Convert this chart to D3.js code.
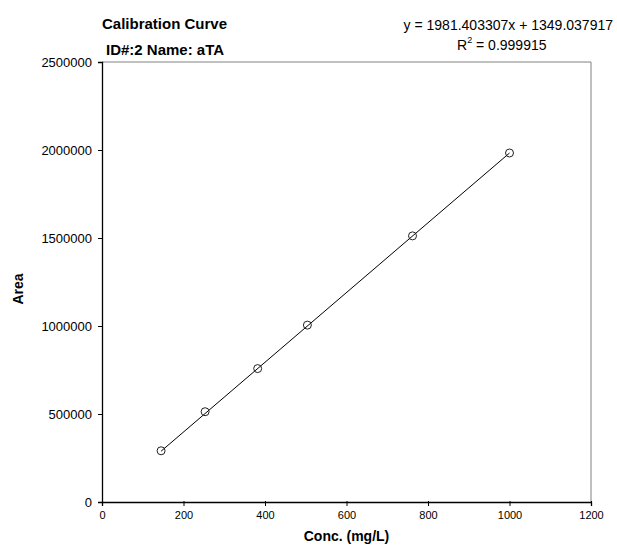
<!DOCTYPE html>
<html lang="en">
<head>
<meta charset="UTF-8">
<title>Calibration Curve</title>
<script src="https://d3js.org/d3.v7.min.js"></script>
<style>
    body { margin: 0; background: #fff; }
    * { font-family: Arial, "Liberation Sans", sans-serif; }
</style>
</head>
<body>
<div id="chart"></div>
<script>
// calibration standards
var conc = [145, 253, 382, 504, 762, 1000];
var area = [291000, 513000, 758000, 1005000, 1512000, 1983000];

// regression as printed on the chart
var slope = 1981.403307;
var intercept = 1349.037917;
var rSquared = "0.999915";

var xTicks = [0, 200, 400, 600, 800, 1000, 1200];
var yTicks = [0, 500000, 1000000, 1500000, 2000000, 2500000];

var width = 617, height = 547;
var margin = {top: 62, right: 26, bottom: 45, left: 102};

var svg = d3.select("#chart").append("svg")
    .attr("width", width)
    .attr("height", height);

var x = d3.scaleLinear().domain([0, 1200]).range([margin.left, width - margin.right]);
var y = d3.scaleLinear().domain([0, 2500000]).range([height - margin.bottom, margin.top]);

// grey frame on top and right
svg.append("path")
    .attr("d", "M" + x(0) + "," + y(2500000) + "H" + x(1200) + "V" + y(0))
    .attr("fill", "none")
    .attr("stroke", "#808080")
    .attr("stroke-width", 1);

// x axis
var xAxis = svg.append("g")
    .attr("transform", "translate(0," + y(0) + ")")
    .call(d3.axisBottom(x).tickValues(xTicks).tickSize(4).tickPadding(5).tickFormat(d3.format("d")));
xAxis.selectAll("text").style("font-size", "11px").attr("fill", "#000");
xAxis.selectAll(".tick line").attr("y1", -1);

// y axis
var yAxis = svg.append("g")
    .attr("transform", "translate(" + x(0) + ",0)")
    .call(d3.axisLeft(y).tickValues(yTicks).tickSize(4).tickPadding(6).tickFormat(d3.format("d")));
yAxis.selectAll("text").style("font-size", "13px").attr("fill", "#000");
yAxis.selectAll(".tick line").attr("x1", 1);

svg.selectAll(".domain").attr("stroke", "#000").attr("stroke-width", 1.3);
svg.selectAll(".tick line").attr("stroke", "#000");

// regression line over the standards
var xMin = d3.min(conc), xMax = d3.max(conc);
svg.append("line")
    .attr("x1", x(xMin)).attr("y1", y(slope * xMin + intercept))
    .attr("x2", x(xMax)).attr("y2", y(slope * xMax + intercept))
    .attr("stroke", "#000")
    .attr("stroke-width", 1);

// points
svg.selectAll("circle.pt")
    .data(conc.map(function(c, i) { return {c: c, a: area[i]}; }))
    .enter().append("circle")
    .attr("class", "pt")
    .attr("cx", function(d) { return x(d.c); })
    .attr("cy", function(d) { return y(d.a); })
    .attr("r", 4)
    .attr("fill", "none")
    .attr("stroke", "#222")
    .attr("stroke-width", 1);

// titles
svg.append("text").attr("x", 102).attr("y", 29)
    .style("font-size", "15px").style("font-weight", "bold")
    .text("Calibration Curve");
svg.append("text").attr("x", 106).attr("y", 55)
    .style("font-size", "15px").style("font-weight", "bold")
    .text("ID#:2 Name: aTA");

// equation and R squared
svg.append("text").attr("x", 613).attr("y", 30)
    .attr("text-anchor", "end")
    .style("font-size", "14px")
    .text("y = " + slope.toFixed(6) + "x + " + intercept.toFixed(6));
var r2 = svg.append("text").attr("x", 457).attr("y", 50)
    .style("font-size", "14px");
r2.append("tspan").text("R");
r2.append("tspan").attr("dy", -7).style("font-size", "9px").text("2");
r2.append("tspan").attr("dy", 7).text(" = " + rSquared);

// axis titles
svg.append("text")
    .attr("x", (x(0) + x(1200)) / 2).attr("y", 541)
    .attr("text-anchor", "middle")
    .style("font-size", "14px").style("font-weight", "bold")
    .text("Conc. (mg/L)");
svg.append("text")
    .attr("transform", "translate(23,289) rotate(-90)")
    .attr("text-anchor", "middle")
    .style("font-size", "14px").style("font-weight", "bold")
    .text("Area");
</script>
</body>
</html>
